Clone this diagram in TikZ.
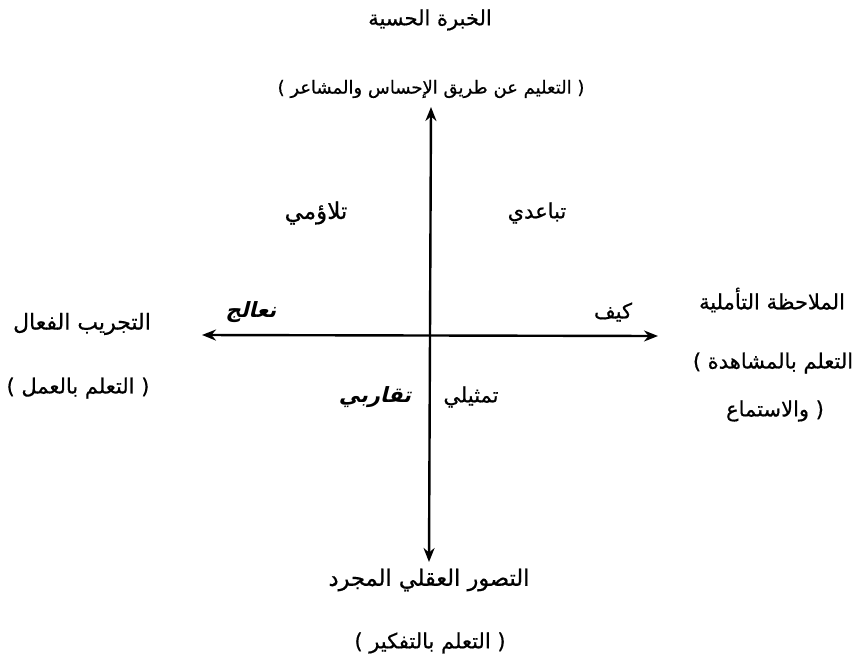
\documentclass[tikz,border=0pt]{standalone}
\usepackage{fontspec}
\usepackage{tikz}
\usetikzlibrary{arrows.meta}
\TeXXeTstate=1
\newfontfamily\arabicfont[Script=Arabic,FakeBold=0.6]{DejaVu Sans}
\newfontfamily\arabicslant[Script=Arabic,FakeSlant=0.25]{DejaVu Sans Bold}

\begin{document}
\begin{tikzpicture}[x=1pt, y=-1pt]
        \tikzstyle{lbl} = [inner sep=1pt, font=\arabicfont\fontsize{21}{25}\selectfont]
        \tikzstyle{lblb} = [inner sep=1pt, font=\arabicslant\fontsize{21}{25}\selectfont]
        \useasboundingbox (0, 0) rectangle (856, 662);
        \coordinate (n) at (431, 107);
        \coordinate (s) at (429, 562);
        \coordinate (w) at (202, 335);
        \coordinate (e) at (658, 336);
        \draw[<->, >={Stealth[length=14pt, width=11pt]}, line width=2.4pt] (n) -- (s);
        \draw[<->, >={Stealth[length=14pt, width=11pt]}, line width=2.4pt] (w) -- (e);
        \node[lbl] (top) at (430, 20) {\beginR الخبرة الحسية\endR};
        \node[lbl, font=\arabicfont\fontsize{18}{22}\selectfont] (topsub) at (431, 89) {) \beginR التعليم عن طريق الإحساس والمشاعر\endR{} (};
        \node[lbl, font=\arabicfont\fontsize{22.5}{26}\selectfont] (bot) at (429, 580) {\beginR التصور العقلي المجرد\endR};
        \node[lbl] (botsub) at (430, 643) {) \beginR التعلم بالتفكير\endR{} (};
        \node[lbl, font=\arabicfont\fontsize{22}{26}\selectfont] (left) at (82, 324) {\beginR التجريب الفعال\endR};
        \node[lbl] (leftsub) at (78, 388) {) \beginR التعلم بالعمل\endR{} (};
        \node[lbl] (right) at (772, 300) {\beginR الملاحظة التأملية\endR};
        \node[lbl] (rightsub) at (773, 363) {) \beginR التعلم بالمشاهدة\endR};
        \node[lbl] (rightsub2) at (775, 411) {\beginR والاستماع\endR{} (};
        \node[lbl, font=\arabicfont\fontsize{23}{27}\selectfont] (q1) at (316, 213) {\beginR تلاؤمي\endR};
        \node[lbl] (q2) at (537, 213) {\beginR تباعدي\endR};
        \node[lbl] (q4) at (471, 397) {\beginR تمثيلي\endR};
        \node[lblb] (q3) at (375, 397) {\beginR تقاربي\endR};
        \node[lblb] (proc) at (251, 312) {\beginR نعالج\endR};
        \node[lbl] (how) at (613, 312) {\beginR كيف\endR};
      \end{tikzpicture}
\end{document}
